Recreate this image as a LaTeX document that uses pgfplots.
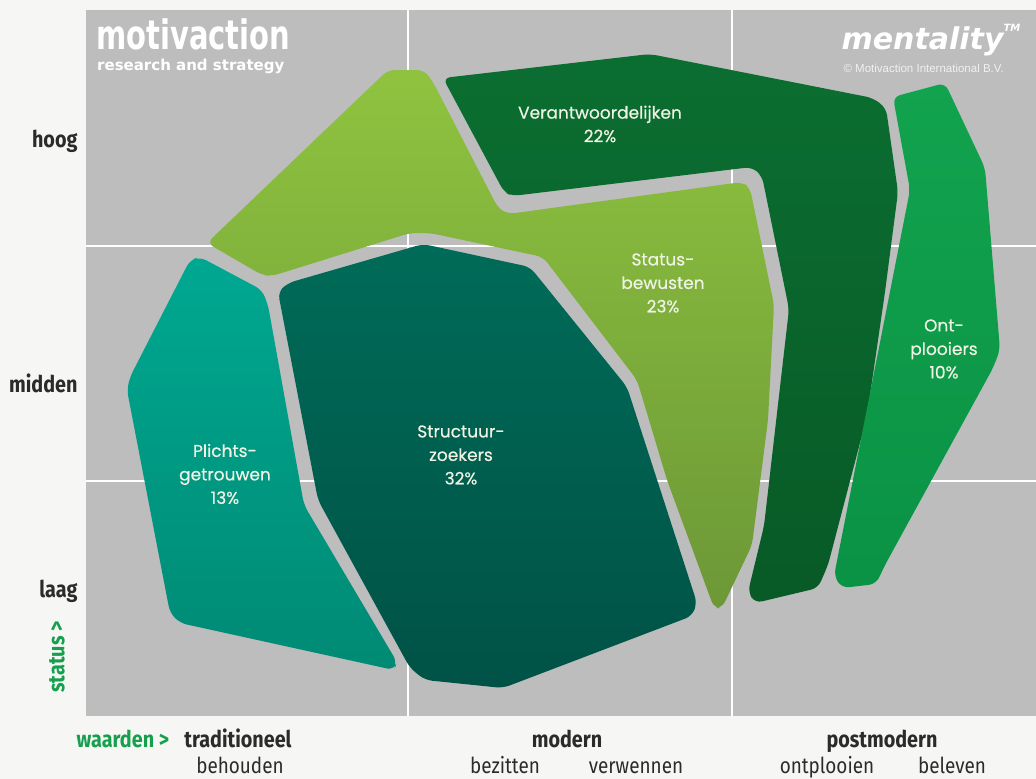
\documentclass[border=0pt]{standalone}
\usepackage{fontspec}
\setmainfont{Poppins}
\newfontfamily\labfont[FakeBold=0.5]{Poppins}
\newfontfamily\cond[FakeStretch=0.86]{Fira Sans}
\newfontfamily\djv{DejaVu Sans}
\newfontfamily\lib{Liberation Sans}
\usepackage{pgfplots}
\pgfplotsset{compat=1.18}

\definecolor{pagebg}{HTML}{F6F6F4}
\definecolor{panel}{HTML}{BDBDBD}
\definecolor{lgTop}{HTML}{8FC33F}
\definecolor{lgBot}{HTML}{6C9837}
\definecolor{vrTop}{HTML}{0B6E31}
\definecolor{vrBot}{HTML}{085A26}
\definecolor{onTop}{HTML}{12A34E}
\definecolor{onBot}{HTML}{0A9245}
\definecolor{plTop}{HTML}{00A891}
\definecolor{plBot}{HTML}{008A74}
\definecolor{stTop}{HTML}{006B58}
\definecolor{stBot}{HTML}{005246}
\definecolor{lab}{HTML}{EEF3E4}
\definecolor{axtxt}{HTML}{2B2B2B}
\definecolor{mgreen}{HTML}{16A04E}

\begin{document}
\begin{tikzpicture}
\begin{axis}[
    width=1036pt, height=779pt, scale only axis,
    xmin=0, xmax=1036, ymin=0, ymax=779,
    y dir=reverse, hide axis,
]
% background and panel
\addplot[fill=pagebg, draw=none, mark=none] coordinates {(0,0) (1036,0) (1036,779) (0,779)} -- cycle;
\addplot[fill=panel, draw=none, mark=none] coordinates {(86,10) (1036,10) (1036,716) (86,716)} -- cycle;
% quadrant lines
\addplot[white, line width=2.5pt, mark=none] coordinates {(408,10) (408,716)};
\addplot[white, line width=2.5pt, mark=none] coordinates {(732,10) (732,716)};
\addplot[white, line width=2.5pt, mark=none] coordinates {(86,246) (1036,246)};
\addplot[white, line width=2.5pt, mark=none] coordinates {(86,481) (1036,481)};

% Statusbewusten
\addplot[draw=none, top color=lgTop, bottom color=lgBot, rounded corners=7pt, mark=none] coordinates {
    (207,243) (388,70) (424,70) (433,82) (498,208) (508,214) (742,182)
    (750,188) (774,305) (768,420) (752,545) (722,608) (714,608)
    (667,480) (637,380) (543,257) (430,233) (410,233) (272,276) (262,275)
} -- cycle;
% Verantwoordelijken
\addplot[draw=none, top color=vrTop, bottom color=vrBot, rounded corners=7pt, mark=none] coordinates {
    (443,78) (650,54) (873,98) (886,108) (898,192) (885,292) (867,416)
    (828,565) (818,588) (755,603) (748,592) (764,526) (789,309)
    (762,176) (752,167) (512,196) (504,192)
} -- cycle;
% Ontplooiers
\addplot[draw=none, top color=onTop, bottom color=onBot, rounded corners=7pt, mark=none] coordinates {
    (893,97) (945,83) (985,168) (1000,350) (993,368) (885,565)
    (876,584) (842,588) (834,576) (910,190)
} -- cycle;
% Plichtsgetrouwen
\addplot[draw=none, top color=plTop, bottom color=plBot, rounded corners=7pt, mark=none] coordinates {
    (190,260) (200,257) (262,290) (268,305) (304,505) (397,662)
    (394,670) (180,623) (170,613) (127,390) (130,377)
} -- cycle;
% Structuurzoekers
\addplot[draw=none, top color=stTop, bottom color=stBot, rounded corners=7pt, mark=none] coordinates {
    (278,292) (288,283) (423,244) (530,267) (627,387) (697,603)
    (692,616) (503,688) (425,680) (410,668) (318,500)
} -- cycle;

% segment labels
\begin{scope}[every node/.style={align=center, text=lab, font=\labfont\fontsize{17}{23.5}\selectfont}]
\node at (axis cs:600,124) {Verantwoordelijken\\22\%};
\node at (axis cs:663,283) {Status-\\bewusten\\23\%};
\node at (axis cs:944,349) {Ont-\\plooiers\\10\%};
\node at (axis cs:461,455) {Structuur-\\zoekers\\32\%};
\node at (axis cs:225,474) {Plichts-\\getrouwen\\13\%};
\end{scope}

% logos
\node[anchor=base west, inner sep=0pt, white, yscale=1.4, font=\djv\bfseries\fontsize{29}{29}\selectfont] at (axis cs:96,49) {motivaction};
\node[anchor=base west, inner sep=0pt, white, font=\djv\bfseries\fontsize{15}{15}\selectfont] at (axis cs:97,70) {research and strategy};
\node[anchor=west, white, font=\djv\bfseries\itshape\fontsize{30}{30}\selectfont] at (axis cs:838,40) {mentality\raisebox{1.1ex}{\fontsize{10}{10}\selectfont TM}};
\node[anchor=west, white!88!gray, font=\lib\fontsize{11.5}{11.5}\selectfont] at (axis cs:840,68) {© Motivaction International B.V.};

% status axis
\begin{scope}[every node/.style={text=axtxt, font=\cond\bfseries\fontsize{23}{23}\selectfont}]
\node[anchor=base east] at (axis cs:81,147) {hoog};
\node[anchor=base east] at (axis cs:81,392) {midden};
\node[anchor=base east] at (axis cs:81,597) {laag};
\node[rotate=90, text=mgreen] at (axis cs:57,657) {status >};
\node[anchor=base west, text=mgreen] at (axis cs:73,747) {waarden >};
\node[anchor=base] at (axis cs:238,747) {traditioneel};
\node[anchor=base] at (axis cs:567,747) {modern};
\node[anchor=base] at (axis cs:882,747) {postmodern};
\end{scope}
\begin{scope}[every node/.style={anchor=base, text=axtxt, font=\cond\fontsize{22}{22}\selectfont}]
\node at (axis cs:240,773) {behouden};
\node at (axis cs:505,773) {bezitten};
\node at (axis cs:636,773) {verwennen};
\node at (axis cs:827,773) {ontplooien};
\node at (axis cs:952,773) {beleven};
\end{scope}
\end{axis}
\end{tikzpicture}
\end{document}
